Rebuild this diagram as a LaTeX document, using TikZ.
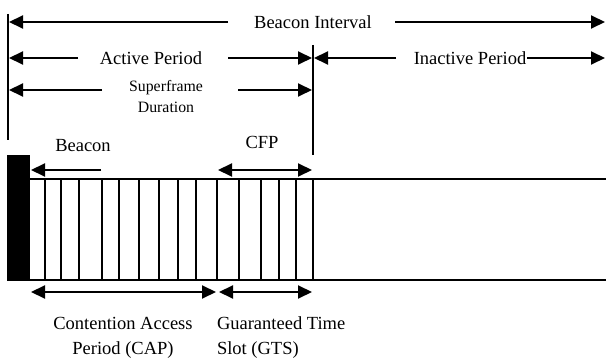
\documentclass[tikz,border=0pt]{standalone}
\usepackage{fontspec}
\setmainfont{Liberation Serif}
\usetikzlibrary{arrows.meta}
\begin{document}
\begin{tikzpicture}[x=1pt, y=-1pt, line width=2pt,
      >={Triangle[length=14pt,width=13pt]}]
      \tikzstyle{span}=[->]
      \tikzstyle{bispan}=[<->]
      \tikzstyle{lbl}=[font=\fontsize{18.5}{25}\selectfont, inner sep=0pt]
      \tikzstyle{small}=[font=\fontsize{15.8}{21}\selectfont, inner sep=0pt,
        align=center]
      \useasboundingbox (0,0) rectangle (606,358);

      % boundary lines
      \coordinate (start top) at (8,14);
      \coordinate (start bot) at (8,140);
      \coordinate (end top) at (313,45);
      \coordinate (end bot) at (313,155);
      \draw (start top) -- (start bot);
      \draw (end top) -- (end bot);

      % beacon interval
      \node[lbl] (interval) at (313,22) {Beacon Interval};
      \coordinate (bi left) at (228,22);
      \coordinate (bi right) at (395,22);
      \draw[span] (bi left) -- (9,22);
      \draw[span] (bi right) -- (605,22);

      % active period
      \node[lbl] (active) at (151,58) {Active Period};
      \coordinate (ap left) at (78,58);
      \coordinate (ap right) at (228,58);
      \draw[span] (ap left) -- (9,58);
      \draw[span] (ap right) -- (312,58);

      % inactive period
      \node[lbl] (inactive) at (470,58) {Inactive Period};
      \coordinate (ip left) at (396,58);
      \draw[span] (ip left) -- (314,58);
      \draw[span] (inactive.east) -- (605,58);

      % superframe duration
      \node[small] (duration) at (166,97) {Superframe\\Duration};
      \coordinate (sd left) at (102,90);
      \coordinate (sd right) at (238,90);
      \draw[span] (sd left) -- (9,90);
      \draw[span] (sd right) -- (312,90);

      % beacon and cfp
      \node[lbl] (beacon) at (83,146) {Beacon};
      \node[lbl] (cfp) at (262,142) {CFP};
      \coordinate (bc tail) at (101,170);
      \draw[span] (bc tail) -- (31,170);
      \coordinate (cfp left) at (218,170);
      \coordinate (cfp right) at (312,170);
      \draw[bispan] (cfp left) -- (cfp right);

      % superframe slots
      \fill (7,155) rectangle (30,281);
      \draw (30,179) -- (606,179)
        (30,280) -- (606,280);
      \foreach \x in {45,61,79,102,119,139,159,178,196,217,239,261,279,296,313}
        \draw (\x,179) -- (\x,280);

      % cap and gts
      \coordinate (cap left) at (31,292);
      \coordinate (cap right) at (216,292);
      \coordinate (gts left) at (219,292);
      \coordinate (gts right) at (312,292);
      \draw[bispan] (cap left) -- (cap right);
      \draw[bispan] (gts left) -- (gts right);
      \node[lbl, align=center] (cap) at (123,338)
        {Contention Access\\Period (CAP)};
      \node[lbl, align=left, anchor=west] (gts) at (216,338)
        {Guaranteed Time\\Slot (GTS)};
    \end{tikzpicture}
\end{document}
